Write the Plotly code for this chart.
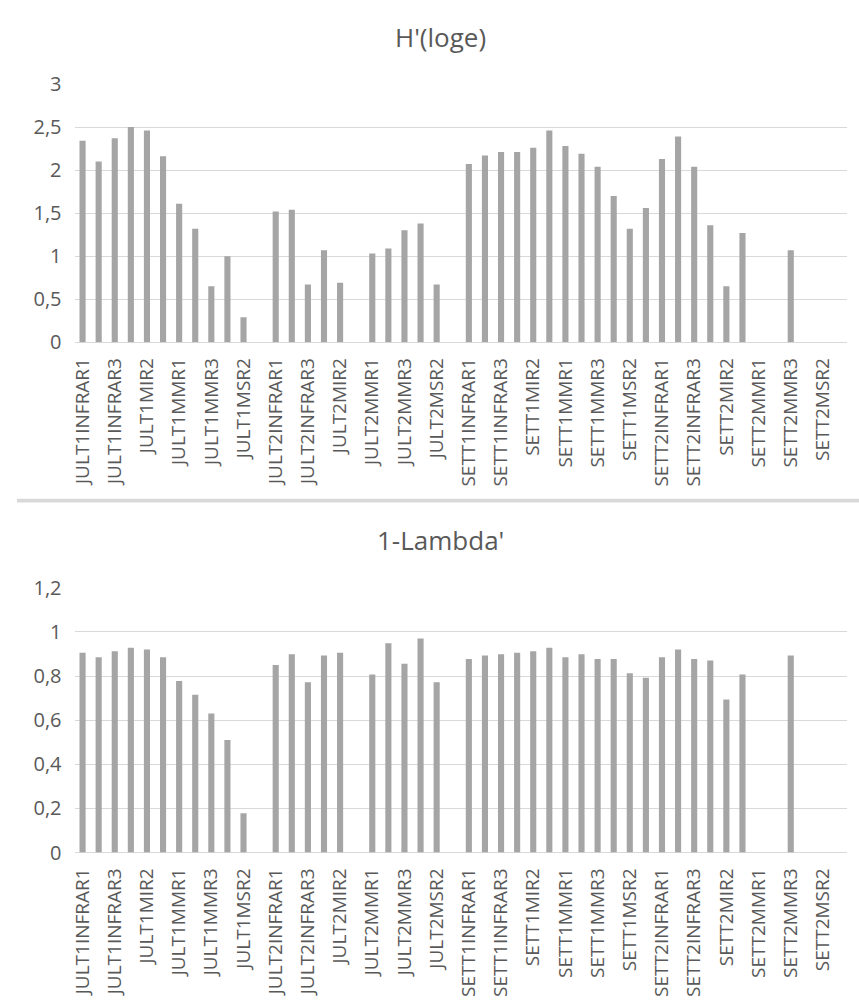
import plotly.graph_objects as go

W, H = 859, 1006

groups = ["JULT1", "JULT2", "SETT1", "SETT2"]
sites = ["INFRAR1", "INFRAR2", "INFRAR3", "MIR1", "MIR2", "MIR3",
         "MMR1", "MMR2", "MMR3", "MSR1", "MSR2", "MSR3"]
categories = [g + s for g in groups for s in sites]
tick_labels = categories[::2]

h_loge = [2.34, 2.10, 2.37, 2.50, 2.46, 2.16, 1.61, 1.32, 0.65, 1.00, 0.29, None,
          1.52, 1.54, 0.67, 1.07, 0.69, None, 1.03, 1.09, 1.30, 1.38, 0.67, None,
          2.07, 2.17, 2.21, 2.21, 2.26, 2.46, 2.28, 2.19, 2.04, 1.70, 1.32, 1.56,
          2.13, 2.39, 2.04, 1.36, 0.65, 1.27, None, None, 1.07, None, None, None]

one_minus_lambda = [0.906, 0.885, 0.913, 0.928, 0.921, 0.885, 0.778, 0.715, 0.631, 0.510, 0.178, None,
                    0.850, 0.899, 0.772, 0.893, 0.906, None, 0.807, 0.949, 0.856, 0.971, 0.772, None,
                    0.878, 0.893, 0.899, 0.906, 0.913, 0.928, 0.885, 0.899, 0.878, 0.878, 0.813, 0.793,
                    0.885, 0.921, 0.878, 0.871, 0.694, 0.807, None, None, 0.893, None, None, None]

titles = ["H'(loge)", "1-Lambda'"]

BAR = "#A5A5A5"
GRID = "#D9D9D9"
TXT = "#595959"
FONT = "Open Sans"


def py(px):
    return (H - px) / H


fig = go.Figure()
fig.add_trace(go.Bar(x=categories, y=h_loge, marker=dict(color=BAR, line_width=0),
                     width=0.38, xaxis="x", yaxis="y", showlegend=False))
fig.add_trace(go.Bar(x=categories, y=one_minus_lambda, marker=dict(color=BAR, line_width=0),
                     width=0.38, xaxis="x2", yaxis="y2", showlegend=False))

xdom = [69 / W, 847 / W]
xcommon = dict(type="category", categoryorder="array", categoryarray=categories,
               tickmode="array", tickvals=tick_labels, ticktext=tick_labels,
               tickangle=-90, tickfont=dict(family=FONT, size=19, color=TXT),
               showgrid=False, ticks="", ticklabelstandoff=11,
               showline=False, domain=xdom, range=[-0.5, 47.5], fixedrange=True)
ycommon = dict(showgrid=True, gridcolor=GRID, gridwidth=1, zeroline=True,
               zerolinecolor=GRID, zerolinewidth=1, ticks="", showline=False,
               tickfont=dict(family=FONT, size=20, color=TXT), ticklabelstandoff=12,
               fixedrange=True)

fig.update_layout(
    width=W, height=H,
    margin=dict(l=0, r=0, t=0, b=0),
    paper_bgcolor="white", plot_bgcolor="white",
    separators=", ",
    bargap=0.62,
    hovermode=False,
    xaxis=dict(**xcommon, anchor="y"),
    yaxis=dict(**ycommon, anchor="x", domain=[py(337.3), py(72)], range=[0, 3], dtick=0.5),
    xaxis2=dict(**xcommon, anchor="y2"),
    yaxis2=dict(**ycommon, anchor="x2", domain=[py(861.7), py(589.7)], range=[0, 1.2], dtick=0.2),
    font=dict(family=FONT, color=TXT),
)

for t, yc in zip(titles, [24, 540]):
    fig.add_annotation(text=t, xref="paper", yref="paper", x=438 / W, y=py(yc),
                       xanchor="center", yanchor="middle", showarrow=False,
                       font=dict(family=FONT, size=26, color=TXT))

fig.add_shape(type="rect", xref="paper", yref="paper", x0=11 / W, x1=1,
              y0=py(502), y1=py(498), fillcolor=GRID, line_width=0, layer="above")

fig.write_html("out.html", config={"displayModeBar": False},
               post_script="document.body.style.margin='0';document.body.style.overflow='hidden';")
